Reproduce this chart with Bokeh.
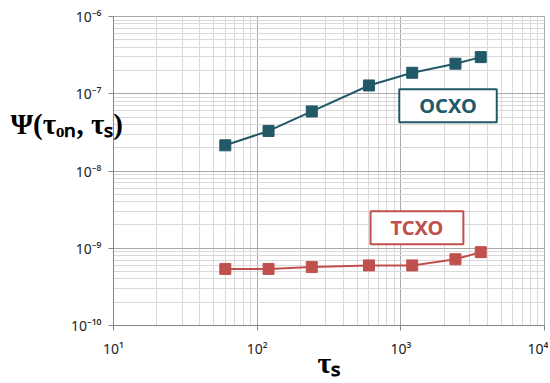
from bokeh.plotting import figure
from bokeh.models import FixedTicker, Label
from bokeh.embed import file_html
from bokeh.resources import INLINE

# ---- data ----
tau_s = [60, 120, 240, 600, 1200, 2400, 3600]
psi_ocxo = [2.15e-8, 3.3e-8, 5.9e-8, 1.28e-7, 1.87e-7, 2.45e-7, 2.98e-7]
psi_tcxo = [5.4e-10, 5.4e-10, 5.7e-10, 6.0e-10, 6.0e-10, 7.2e-10, 8.9e-10]

x_major = [1e1, 1e2, 1e3, 1e4]
x_labels = ["10¹", "10²", "10³", "10⁴"]
y_major = [1e-10, 1e-9, 1e-8, 1e-7, 1e-6]
y_labels = ["10⁻¹⁰", "10⁻⁹", "10⁻⁸", "10⁻⁷", "10⁻⁶"]

x_title = "τₛ"
y_title = "Ψ(τₒₙ, τₛ)"

series_names = ["OCXO", "TCXO"]
series_colors = ["#215968", "#C0504D"]
label_pos = [(2130, 7.0e-8), (1295, 1.84e-9)]

W, H = 548, 381
FL, FR, FT, FB = 113, 544, 16, 326   # frame edges in canvas px

p = figure(width=W, height=H, x_axis_type="log", y_axis_type="log",
           x_range=(1e1, 1e4), y_range=(1e-10, 1e-6),
           output_backend="svg", toolbar_location=None,
           min_border_left=FL, min_border_right=W - FR,
           min_border_top=FT, min_border_bottom=H - FB)

def minors(majors):
    out = []
    for m in majors[:-1]:
        for k in range(2, 10):
            out.append(m * k)
    return out

p.xaxis.ticker = FixedTicker(ticks=x_major, minor_ticks=minors(x_major))
p.yaxis.ticker = FixedTicker(ticks=y_major, minor_ticks=minors(y_major))
p.xaxis.major_label_overrides = {v: s for v, s in zip(x_major, x_labels)}
p.yaxis.major_label_overrides = {v: s for v, s in zip(y_major, y_labels)}

for ax in (p.xaxis, p.yaxis):
    ax.axis_line_color = "#868686"
    ax.axis_line_width = 1
    ax.major_tick_line_color = "#868686"
    ax.major_tick_in = 0
    ax.major_tick_out = 5
    ax.minor_tick_line_color = None
    ax.major_label_text_font = "Noto Sans"
    ax.major_label_text_font_size = "14px"
    ax.major_label_text_color = "#222222"
    ax.axis_label_text_font = "Liberation Serif"
    ax.axis_label_text_font_style = "bold"
    ax.axis_label_text_color = "black"
p.xaxis.major_label_standoff = 8
p.yaxis.major_label_standoff = 7

p.xaxis.axis_label = x_title
p.xaxis.axis_label_text_font_size = "30px"
p.xaxis.axis_label_standoff = -15

p.yaxis.axis_label = y_title + "\n\u00a0\n\u00a0"
p.yaxis.axis_label_text_font_size = "29px"
p.yaxis.axis_label_orientation = "horizontal"
p.yaxis.axis_label_standoff = -55
p.yaxis.axis_label_text_line_height = 1.47

for g in (p.xgrid, p.ygrid):
    g.grid_line_color = "#a9a9a9"
    g.grid_line_width = 1
    g.minor_grid_line_color = "#d9d9d9"
    g.minor_grid_line_width = 1

p.outline_line_color = "#a9a9a9"
p.background_fill_color = "white"
p.border_fill_color = "white"

for ys, col in zip([psi_ocxo, psi_tcxo], series_colors):
    p.line(tau_s, ys, line_color=col, line_width=2)
    p.scatter(tau_s, ys, marker="square", size=11, fill_color=col, line_color=col)

for name, col, (lx, ly) in zip(series_names, series_colors, label_pos):
    p.add_layout(Label(x=lx, y=ly, text=name, text_align="center", text_baseline="middle",
                       text_font="Noto Sans", text_font_style="bold", text_font_size="20px",
                       text_color=col, background_fill_color="white",
                       border_line_color=col, border_line_width=2,
                       padding=dict(left=20, right=20, top=3, bottom=3)))

open("out.html", "w").write(file_html(p, INLINE))
